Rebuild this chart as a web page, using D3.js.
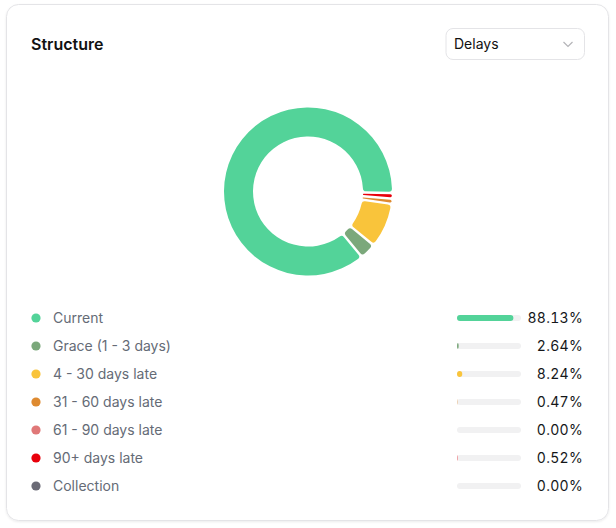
<!DOCTYPE html>
<html>
<head>
<meta charset="utf-8">
<script src="https://cdn.jsdelivr.net/npm/d3@7"></script>
<style>
  html, body { margin: 0; padding: 0; background: #fff; }
  svg { display: block; font-family: Inter, "Noto Sans", sans-serif; }
  .pct { font-variant-numeric: tabular-nums; letter-spacing: 0.3px; }
</style>
</head>
<body>
<script>
var categories = ["Current", "Grace (1 - 3 days)", "4 - 30 days late", "31 - 60 days late",
                  "61 - 90 days late", "90+ days late", "Collection"];
var shares = [88.13, 2.64, 8.24, 0.47, 0.00, 0.52, 0.00];
var palette = ["#53d399", "#7ba87b", "#f9c43b", "#de8a30", "#e07878", "#e8000b", "#6b6b76"];

var w = 616, h = 528;
var cx = 308, cy = 191.5;
var r0 = 55, r1 = 84;

var color = d3.scaleOrdinal().domain(categories).range(palette);

var data = categories.map(function(c, i) { return {label: c, value: shares[i]}; });

var svg = d3.select("body").append("svg")
    .attr("width", w)
    .attr("height", h);

var defs = svg.append("defs");
var f = defs.append("filter").attr("id", "shadow")
    .attr("x", "-5%").attr("y", "-5%").attr("width", "110%").attr("height", "110%");
f.append("feDropShadow").attr("dx", 0).attr("dy", 1).attr("stdDeviation", 1.2)
    .attr("flood-color", "#000").attr("flood-opacity", 0.08);

// card
svg.append("rect")
    .attr("x", 6.5).attr("y", 4.5)
    .attr("width", 602).attr("height", 516)
    .attr("rx", 12)
    .attr("fill", "#fff")
    .attr("stroke", "#e4e4e7")
    .attr("filter", "url(#shadow)");

svg.append("text")
    .attr("x", 31).attr("y", 50)
    .attr("font-size", 16).attr("font-weight", 600)
    .attr("fill", "#111")
    .text("Structure");

// dropdown
var dd = svg.append("g");
dd.append("rect")
    .attr("x", 446).attr("y", 28.5)
    .attr("width", 138.5).attr("height", 31)
    .attr("rx", 7)
    .attr("fill", "#fff")
    .attr("stroke", "#e4e4e7");
dd.append("text")
    .attr("x", 454).attr("y", 49)
    .attr("font-size", 14)
    .attr("fill", "#111")
    .text("Delays");
dd.append("path")
    .attr("d", "M563.5,42 L568,46.5 L572.5,42")
    .attr("fill", "none")
    .attr("stroke", "#b4b4b8")
    .attr("stroke-width", 1.2);

// donut
var pa = 2 * Math.PI / 180;
var pie = d3.pie()
    .sort(null)
    .value(function(d) { return d.value; })
    .padAngle(pa)
    .startAngle(Math.PI / 2 + pa / 2)
    .endAngle(Math.PI / 2 + pa / 2 - 2 * Math.PI);

var arc = d3.arc()
    .innerRadius(r0)
    .outerRadius(r1)
    .padRadius(70)
    .cornerRadius(3);

var plot = svg.append("g")
    .attr("transform", "translate(" + cx + "," + cy + ")");

plot.selectAll("path")
    .data(pie(data.filter(function(d) { return d.value > 0; })))
    .enter()
    .append("path")
    .attr("d", arc)
    .attr("fill", function(d) { return color(d.data.label); });

// legend rows
var rowY = d3.scalePoint().domain(categories).range([318, 486]);
var barX = d3.scaleLinear().domain([0, 100]).range([0, 64]);
var barLeft = 457;

var rows = svg.selectAll("g.row")
    .data(data)
    .enter()
    .append("g")
    .attr("class", "row")
    .attr("transform", function(d) { return "translate(0," + rowY(d.label) + ")"; });

rows.append("circle")
    .attr("cx", 36).attr("cy", 0).attr("r", 4.6)
    .attr("fill", function(d) { return color(d.label); });

rows.append("text")
    .attr("x", 53).attr("y", 5)
    .attr("font-size", 14)
    .attr("fill", "#656b76")
    .text(function(d) { return d.label; });

rows.append("rect")
    .attr("x", barLeft).attr("y", -3)
    .attr("width", barX(100)).attr("height", 6)
    .attr("rx", 3)
    .attr("fill", "#f1f1f2");

rows.append("rect")
    .attr("x", barLeft).attr("y", -3)
    .attr("width", function(d) { return barX(d.value); })
    .attr("height", 6)
    .attr("rx", 3)
    .attr("fill", function(d) { return color(d.label); });

rows.append("text")
    .attr("class", "pct")
    .attr("x", 583).attr("y", 5)
    .attr("text-anchor", "end")
    .attr("font-size", 14)
    .attr("fill", "#15171a")
    .text(function(d) { return d.value.toFixed(2) + "%"; });
</script>
</body>
</html>
